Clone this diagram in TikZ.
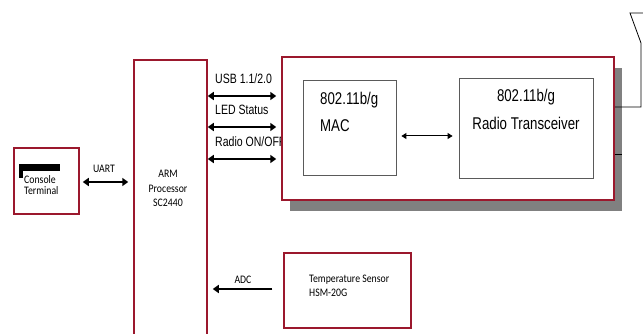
\documentclass[tikz,border=0pt]{standalone}
\usepackage{fontspec}
\setmainfont{Liberation Sans}[FakeStretch=0.78]
\newfontfamily\calfont{Carlito}[FakeStretch=0.85]
\usetikzlibrary{positioning}
\usetikzlibrary{arrows.meta,shadows}
\definecolor{boxred}{RGB}{155, 24, 45}
\definecolor{boxgray}{RGB}{90, 90, 90}
\definecolor{shadowgray}{RGB}{128, 128, 128}

\begin{document}
\begin{tikzpicture}[x=1pt, y=-1pt,
    redbox/.style={draw=boxred, line width=1.5pt, fill=white, inner sep=0pt},
    graybox/.style={draw=boxgray, line width=0.8pt, fill=white, inner sep=0pt},
    smalltext/.style={font=\calfont\fontsize{11.5}{14}\selectfont, inner sep=0pt},
    lbltext/.style={font=\fontsize{13.5}{16}\selectfont, inner sep=0pt},
    bigtext/.style={font=\fontsize{17}{20}\selectfont, inner sep=0pt},
    busarrow/.style={{Triangle[length=6pt,width=8pt]}-{Triangle[length=6pt,width=8pt]}, line width=1.6pt},
    macarrow/.style={{Triangle[length=5pt,width=6pt]}-{Triangle[length=5pt,width=6pt]}, line width=1pt}]
    \useasboundingbox (0,0) rectangle (643,334);
    \clip (0,0) rectangle (643,334);

    % Console terminal
    \node[redbox, minimum width=65pt, minimum height=66pt] (console) at (46.5,181) {};
    \fill (19,164) rectangle (60,171);
    \fill (19,164) rectangle (23,178);
    \node[smalltext, anchor=base west] (consoleA) at (24,183) {Console};
    \node[smalltext, anchor=base west] (consoleB) at (24,195) {Terminal};

    % ARM processor
    \node[redbox, minimum width=73pt, minimum height=290pt] (arm) at (170.5,205) {};
    \node[smalltext, anchor=base] (armA) at (168,177.5) {ARM};
    \node[smalltext, anchor=base] (armB) at (168,192.5) {Processor};
    \node[smalltext, anchor=base] (armC) at (168,207) {SC2440};

    % Bus labels (drawn before the wireless box)
    \node[lbltext, anchor=base west] (usblbl) at (215,84) {USB 1.1/2.0};
    \node[lbltext, anchor=base west] (ledlbl) at (215,115) {LED Status};
    \node[lbltext, anchor=base west] (radiolbl) at (215,146.5) {Radio ON/OFF};

    % Wireless module with shadow
    \node[redbox, minimum width=332pt, minimum height=143pt,
          general shadow={fill=shadowgray, shadow xshift=8pt, shadow yshift=-11pt}]
          (wlan) at (448,128.5) {};
    \node[graybox, minimum width=93pt, minimum height=95pt] (mac) at (349.5,127.5) {};
    \node[graybox, minimum width=134pt, minimum height=100pt] (radio) at (526,128) {};
    \node[bigtext, anchor=base west] (macA) at (320,104.5) {802.11b/g};
    \node[bigtext, anchor=base west] (macB) at (320,132) {MAC};
    \node[bigtext, anchor=base] (radioA) at (526,102) {802.11b/g};
    \node[bigtext, anchor=base] (radioB) at (526,130) {Radio Transceiver};

    % Antenna
    \draw[line width=0.8pt] (wlan.east |- 0,107) -- (641,107) -- (641,43) -- (630,13) -- (650,13);
    \draw[line width=0.8pt] (wlan.east |- 0,154) -- (622,154);

    % Temperature sensor
    \node[redbox, minimum width=127pt, minimum height=75pt] (temp) at (347.5,290.5) {};
    \node[smalltext, anchor=base west] (tempA) at (309,282.5) {Temperature Sensor};
    \node[smalltext, anchor=base west] (tempB) at (309,296.5) {HSM-20G};

    % Connectors
    \draw[busarrow, shorten <=3pt, shorten >=5pt] (console.east |- 0,182) -- (arm.west |- 0,182);
    \node[smalltext, anchor=base] (uartlbl) at (104,172.5) {UART};
    \draw[busarrow, shorten >=5pt] (arm.east |- 0,96) -- (wlan.west |- 0,96);
    \draw[busarrow, shorten >=5pt] (arm.east |- 0,127) -- (wlan.west |- 0,127);
    \draw[busarrow, shorten >=5pt] (arm.east |- 0,159) -- (wlan.west |- 0,159);
    \draw[macarrow, shorten <=5pt, shorten >=6pt] (mac.east |- 0,136) -- (radio.west |- 0,136);
    \draw[-{Triangle[length=6pt,width=8pt]}, line width=1.6pt, shorten <=11pt, shorten >=5pt]
          (temp.west |- 0,289) -- (arm.east |- 0,289);
    \node[smalltext, anchor=base] (adclbl) at (243,283) {ADC};
\end{tikzpicture}
\end{document}
